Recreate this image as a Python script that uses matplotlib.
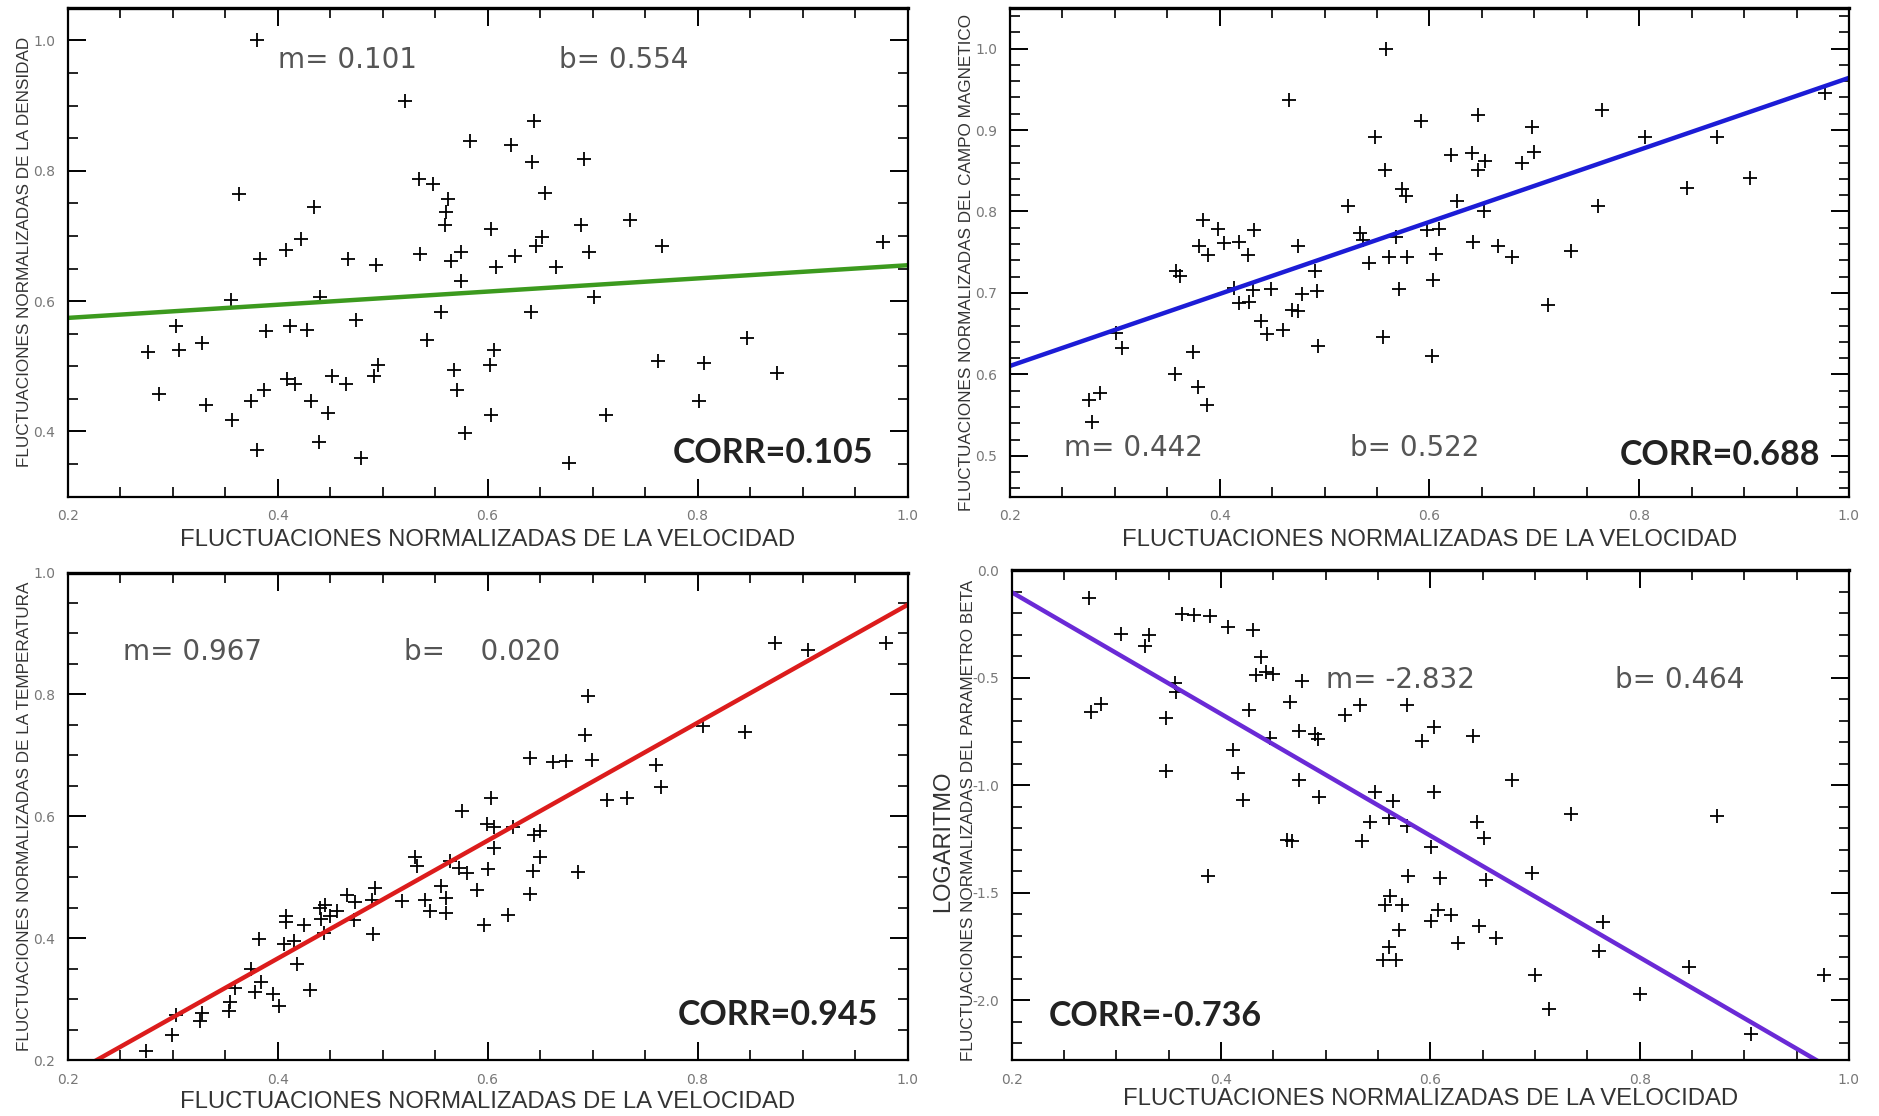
import numpy as np
import matplotlib
matplotlib.use('Agg')
import matplotlib.pyplot as plt
from matplotlib.ticker import MultipleLocator, FormatStrFormatter

velLabel = 'FLUCTUACIONES NORMALIZADAS DE LA VELOCIDAD'

# densidad vs velocidad
densX = [0.380, 0.521, 0.644, 0.583, 0.622, 0.642, 0.692, 0.535, 0.548, 0.363,
         0.655, 0.562, 0.435, 0.560, 0.559, 0.689, 0.736, 0.603, 0.422, 0.652,
         0.646, 0.766, 0.408, 0.383, 0.467, 0.536, 0.575, 0.565, 0.697, 0.626,
         0.494, 0.608, 0.665, 0.977, 0.575, 0.440, 0.356, 0.701, 0.556, 0.641,
         0.475, 0.303, 0.412, 0.428, 0.389, 0.328, 0.542, 0.847, 0.277, 0.306,
         0.606, 0.602, 0.762, 0.806, 0.496, 0.492, 0.568, 0.876, 0.409, 0.417,
         0.452, 0.465, 0.387, 0.287, 0.571, 0.375, 0.432, 0.332, 0.801, 0.448,
         0.357, 0.603, 0.713, 0.578, 0.439, 0.380, 0.479, 0.678]
densY = [1.001, 0.907, 0.877, 0.845, 0.839, 0.814, 0.818, 0.788, 0.780, 0.764,
         0.766, 0.757, 0.745, 0.736, 0.717, 0.717, 0.724, 0.711, 0.695, 0.698,
         0.685, 0.685, 0.679, 0.665, 0.664, 0.672, 0.675, 0.661, 0.675, 0.669,
         0.656, 0.653, 0.653, 0.691, 0.631, 0.607, 0.602, 0.607, 0.584, 0.584,
         0.571, 0.562, 0.562, 0.555, 0.554, 0.535, 0.541, 0.544, 0.522, 0.525,
         0.525, 0.502, 0.508, 0.505, 0.502, 0.485, 0.494, 0.489, 0.480, 0.473,
         0.485, 0.473, 0.463, 0.458, 0.463, 0.447, 0.447, 0.441, 0.447, 0.429,
         0.417, 0.425, 0.425, 0.398, 0.384, 0.371, 0.360, 0.351]

# campo magnetico vs velocidad
campoX = [0.559, 0.466, 0.765, 0.592, 0.646, 0.698, 0.548, 0.806, 0.874, 0.977,
          0.621, 0.641, 0.653, 0.700, 0.688, 0.558, 0.646, 0.906, 0.846, 0.574,
          0.578, 0.522, 0.626, 0.761, 0.652, 0.384, 0.398, 0.433, 0.534, 0.537,
          0.598, 0.609, 0.568, 0.380, 0.404, 0.418, 0.475, 0.642, 0.665, 0.735,
          0.389, 0.427, 0.561, 0.579, 0.606, 0.679, 0.542, 0.358, 0.362, 0.491,
          0.603, 0.414, 0.432, 0.449, 0.571, 0.493, 0.478, 0.418, 0.428, 0.469,
          0.475, 0.713, 0.439, 0.445, 0.460, 0.556, 0.494, 0.307, 0.301, 0.602,
          0.375, 0.357, 0.379, 0.286, 0.275, 0.388, 0.278]
campoY = [1.000, 0.937, 0.925, 0.911, 0.918, 0.904, 0.892, 0.892, 0.892, 0.946,
          0.869, 0.872, 0.862, 0.873, 0.859, 0.851, 0.851, 0.841, 0.829, 0.828,
          0.819, 0.807, 0.813, 0.807, 0.801, 0.790, 0.779, 0.777, 0.773, 0.765,
          0.777, 0.779, 0.769, 0.758, 0.761, 0.762, 0.758, 0.763, 0.758, 0.751,
          0.747, 0.747, 0.744, 0.744, 0.748, 0.744, 0.737, 0.727, 0.721, 0.727,
          0.716, 0.706, 0.704, 0.705, 0.705, 0.703, 0.699, 0.688, 0.689, 0.679,
          0.678, 0.685, 0.666, 0.649, 0.654, 0.646, 0.635, 0.633, 0.651, 0.622,
          0.628, 0.600, 0.584, 0.577, 0.568, 0.563, 0.542]

# temperatura vs velocidad
tempX = [0.874, 0.905, 0.979, 0.696, 0.805, 0.693, 0.845, 0.640, 0.662, 0.675,
         0.699, 0.760, 0.765, 0.714, 0.733, 0.603, 0.576, 0.599, 0.606, 0.624,
         0.650, 0.644, 0.606, 0.650, 0.531, 0.533, 0.564, 0.573, 0.580, 0.600,
         0.643, 0.686, 0.556, 0.590, 0.640, 0.493, 0.466, 0.474, 0.490, 0.518,
         0.540, 0.560, 0.545, 0.560, 0.440, 0.445, 0.457, 0.450, 0.441, 0.408,
         0.408, 0.425, 0.473, 0.619, 0.597, 0.444, 0.491, 0.382, 0.406, 0.416,
         0.418, 0.375, 0.384, 0.359, 0.378, 0.396, 0.431, 0.401, 0.355, 0.354,
         0.328, 0.303, 0.299, 0.275, 0.326]
tempY = [0.884, 0.873, 0.885, 0.798, 0.749, 0.734, 0.738, 0.696, 0.689, 0.691,
         0.692, 0.685, 0.648, 0.627, 0.630, 0.630, 0.608, 0.588, 0.583, 0.582,
         0.576, 0.569, 0.548, 0.533, 0.533, 0.518, 0.527, 0.515, 0.507, 0.514,
         0.511, 0.508, 0.486, 0.479, 0.473, 0.483, 0.471, 0.459, 0.463, 0.461,
         0.463, 0.466, 0.444, 0.441, 0.450, 0.454, 0.444, 0.437, 0.431, 0.437,
         0.427, 0.421, 0.430, 0.438, 0.422, 0.408, 0.407, 0.399, 0.390, 0.396,
         0.357, 0.350, 0.329, 0.319, 0.312, 0.308, 0.315, 0.289, 0.295, 0.280,
         0.277, 0.274, 0.242, 0.215, 0.264]

# log parametro beta vs velocidad
betaX = [0.274, 0.363, 0.374, 0.389, 0.407, 0.430, 0.304, 0.331, 0.327, 0.438,
         0.433, 0.443, 0.450, 0.477, 0.356, 0.357, 0.285, 0.276, 0.466, 0.533,
         0.518, 0.578, 0.427, 0.347, 0.603, 0.474, 0.490, 0.493, 0.447, 0.592,
         0.641, 0.411, 0.347, 0.416, 0.474, 0.678, 0.494, 0.421, 0.547, 0.603,
         0.564, 0.734, 0.874, 0.560, 0.542, 0.578, 0.645, 0.651, 0.463, 0.468,
         0.535, 0.601, 0.387, 0.579, 0.609, 0.653, 0.697, 0.561, 0.557, 0.573,
         0.607, 0.601, 0.620, 0.765, 0.646, 0.570, 0.663, 0.626, 0.560, 0.761,
         0.555, 0.567, 0.847, 0.700, 0.976, 0.800, 0.713, 0.906]
betaY = [-0.128, -0.205, -0.210, -0.213, -0.262, -0.279, -0.295, -0.303, -0.352, -0.402,
         -0.489, -0.475, -0.484, -0.516, -0.525, -0.566, -0.623, -0.659, -0.615, -0.628,
         -0.672, -0.628, -0.648, -0.689, -0.730, -0.749, -0.762, -0.787, -0.779, -0.795,
         -0.770, -0.836, -0.934, -0.943, -0.975, -0.975, -1.054, -1.070, -1.033, -1.033,
         -1.074, -1.134, -1.144, -1.151, -1.172, -1.189, -1.172, -1.246, -1.257, -1.262,
         -1.262, -1.287, -1.421, -1.421, -1.431, -1.443, -1.407, -1.516, -1.557, -1.557,
         -1.579, -1.631, -1.603, -1.636, -1.656, -1.672, -1.713, -1.733, -1.754, -1.774,
         -1.815, -1.815, -1.844, -1.882, -1.882, -1.972, -2.041, -2.159]

# pendiente, ordenada
densFit = [0.101, 0.554]
campoFit = [0.442, 0.522]
tempFit = [0.967, -0.020]
betaFit = [-2.832, 0.464]

densText = ['m= 0.101', 'b= 0.554', 'CORR=0.105']
campoText = ['m= 0.442', 'b= 0.522', 'CORR=0.688']
tempText = ['m= 0.967', 'b=    0.020', 'CORR=0.945']
betaText = ['m= -2.832', 'b= 0.464', 'CORR=-0.736']

labelFont = 'Liberation Sans'


def panel(ax, xs, ys, fit, texts, color, ylim, ymajor, yminor, ylabel,
          mpos, bpos, cpos, xlabelY, ylabelY=0.5):
    ax.plot(xs, ys, '+', color='black', markersize=10, markeredgewidth=1.3)
    lx = np.array([0.2, 1.0])
    ax.plot(lx, fit[0] * lx + fit[1], color=color, linewidth=3.2)
    ax.set_xlim(0.2, 1.0)
    ax.set_ylim(*ylim)
    ax.xaxis.set_major_locator(MultipleLocator(0.2))
    ax.xaxis.set_minor_locator(MultipleLocator(0.05))
    ax.yaxis.set_major_locator(MultipleLocator(ymajor))
    ax.yaxis.set_minor_locator(MultipleLocator(yminor))
    ax.xaxis.set_major_formatter(FormatStrFormatter('%.1f'))
    ax.yaxis.set_major_formatter(FormatStrFormatter('%.1f'))
    ax.tick_params(which='both', direction='in', top=True, right=True,
                   colors='black', labelcolor='#777777', labelsize=10)
    ax.tick_params(which='major', length=13, width=1.4, pad=9)
    ax.tick_params(which='minor', length=7, width=1.2)
    for s in ax.spines.values():
        s.set_linewidth(1.6)
    ax.spines['top'].set_linewidth(2.4)
    ax.set_xlabel(velLabel, fontsize=17.2, color='#333333', family=labelFont)
    ax.xaxis.set_label_coords(0.5, xlabelY)
    ax.set_ylabel(ylabel, fontsize=12.3, color='#333333', family=labelFont)
    ax.yaxis.set_label_coords(-0.043, ylabelY)
    ax.text(mpos[0], mpos[1], texts[0], transform=ax.transAxes, fontsize=20,
            color='#555555', family='DejaVu Sans', va='center')
    ax.text(bpos[0], bpos[1], texts[1], transform=ax.transAxes, fontsize=20,
            color='#555555', family='DejaVu Sans', va='center')
    ax.text(cpos[0], cpos[1], texts[2], transform=ax.transAxes, fontsize=24.5,
            color='#222222', family='Lato', fontweight='bold', va='center')


fig = plt.figure(figsize=(18.79, 11.16), dpi=100)

ax1 = fig.add_axes([0.036, 0.555, 0.447, 0.438])
panel(ax1, densX, densY, densFit, densText, '#3c9a1e', (0.30, 1.05), 0.2, 0.05,
      'FLUCTUACIONES NORMALIZADAS DE LA DENSIDAD',
      (0.25, 0.894), (0.585, 0.894), (0.721, 0.09), -0.067)

ax2 = fig.add_axes([0.5375, 0.555, 0.4465, 0.438])
panel(ax2, campoX, campoY, campoFit, campoText, '#1c1cd6', (0.45, 1.05), 0.1, 0.02,
      'FLUCTUACIONES NORMALIZADAS DEL CAMPO MAGNETICO',
      (0.064, 0.10), (0.405, 0.10), (0.727, 0.086), -0.067, 0.48)

ax3 = fig.add_axes([0.036, 0.050, 0.447, 0.437])
panel(ax3, tempX, tempY, tempFit, tempText, '#dc1c1c', (0.2, 1.0), 0.2, 0.05,
      'FLUCTUACIONES NORMALIZADAS DE LA TEMPERATURA',
      (0.066, 0.836), (0.40, 0.836), (0.726, 0.092), -0.064)

ax4 = fig.add_axes([0.5385, 0.050, 0.4455, 0.439])
panel(ax4, betaX, betaY, betaFit, betaText, '#6a2ad6', (-2.28, 0.0), 0.5, 0.1,
      'FLUCTUACIONES NORMALIZADAS DEL PARAMETRO BETA',
      (0.375, 0.776), (0.72, 0.776), (0.044, 0.09), -0.056, 0.49)
ax4.text(-0.082, 0.447, 'LOGARITMO', transform=ax4.transAxes, rotation=90,
         fontsize=17, color='#333333', family=labelFont, ha='center', va='center')

fig.savefig('out.png', dpi=100)
